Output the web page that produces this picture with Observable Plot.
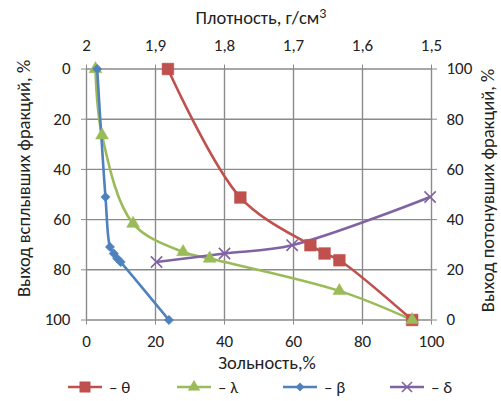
<!DOCTYPE html>
<html>
<head>
<meta charset="utf-8">
<script src="https://cdn.jsdelivr.net/npm/d3@7"></script>
<script src="https://cdn.jsdelivr.net/npm/@observablehq/plot@0.6"></script>
<style>
  html, body { margin: 0; padding: 0; background: #fff; }
  #wrap { position: relative; width: 501px; height: 401px; font-family: Carlito, Lato, "Open Sans", sans-serif; }
  #legend { position: absolute; left: 0; top: 376px; width: 501px; height: 22px; font-size: 17px; color: #222; }
  .item { position: absolute; top: 0; display: flex; align-items: center; height: 22px; }
  .item svg { margin-right: 7px; }
</style>
</head>
<body>
<div id="wrap"><div id="chart"></div><div id="legend"></div></div>
<script>
// Axis ticks and labels
const xTicks = [0, 20, 40, 60, 80, 100];
const yTicks = [0, 20, 40, 60, 80, 100];
const topLabels = ["2", "1,9", "1,8", "1,7", "1,6", "1,5"];
const rightLabels = ["100", "80", "60", "40", "20", "0"];

// θ series (ash %, floats yield %)
const thetaX = [23.6, 44.6, 64.9, 69.0, 73.3, 94.4];
const thetaY = [0, 51.2, 70.2, 73.5, 76.2, 100];
// λ series
const lambdaX = [2.6, 4.5, 13.5, 28.0, 35.7, 73.3, 94.4];
const lambdaY = [0, 26.4, 61.6, 72.9, 75.5, 88.4, 100];
// β series
const betaX = [3.1, 5.5, 6.8, 7.9, 8.9, 9.9, 23.9];
const betaY = [0, 51.0, 70.9, 73.5, 75.5, 76.9, 100];
// δ series (ash %, sinks yield % on right axis)
const deltaX = [20.3, 40.0, 59.6, 99.6];
const deltaSink = [23.1, 26.5, 29.8, 49.0];

const seriesNames = ["θ", "λ", "β", "δ"];
const colors = ["#C0504D", "#9BBB59", "#4F81BD", "#8064A2"];
const symbols = ["square", "triangle", "diamond2", "times"];
const sizes = [6.6, 4.8, 4.2, 5.2];

const toRows = (xs, ys) => xs.map((x, i) => ({x, y: ys[i]}));
const series = [
  toRows(thetaX, thetaY),
  toRows(lambdaX, lambdaY),
  toRows(betaX, betaY),
  toRows(deltaX, deltaSink.map(v => 100 - v))
];

const font = 'Carlito, Lato, "Open Sans", sans-serif';
const grid = "#8a8a8a";
const txt = "#222";
const FS = 17;
const TS = 18.5;
const H = 380;

const marks = [
  Plot.gridX(xTicks, {stroke: grid, strokeOpacity: 1, strokeWidth: 1.4}),
  Plot.gridY(yTicks, {stroke: grid, strokeOpacity: 1, strokeWidth: 1.4}),
  Plot.axisX(xTicks, {anchor: "bottom", tickSize: 5, tickPadding: 10, stroke: grid, label: null, fontSize: FS, fill: txt}),
  Plot.axisX(xTicks, {anchor: "top", tickSize: 5, tickPadding: 13, stroke: grid, label: null, fontSize: FS, fill: txt,
    tickFormat: d => topLabels[xTicks.indexOf(d)]}),
  Plot.axisY(yTicks, {anchor: "left", tickSize: 5, tickPadding: 11, stroke: grid, label: null, fontSize: FS, fill: txt}),
  Plot.axisY(yTicks, {anchor: "right", tickSize: 5, tickPadding: 10, stroke: grid, label: null, fontSize: FS, fill: txt,
    tickFormat: d => rightLabels[yTicks.indexOf(d)]}),
];
series.forEach((rows, i) => {
  marks.push(Plot.line(rows, {x: "x", y: "y", stroke: colors[i], strokeWidth: 2.6, curve: "catmull-rom"}));
});
series.forEach((rows, i) => {
  const isStroke = symbols[i] === "times";
  marks.push(Plot.dot(rows, {x: "x", y: "y", symbol: symbols[i], r: sizes[i],
    fill: isStroke ? "none" : colors[i], stroke: colors[i], strokeWidth: isStroke ? 1.6 : 0.5}));
});
marks.push(
  Plot.text(["Плотность, г/см"], {frameAnchor: "top", dx: 2, dy: -51, lineAnchor: "middle", textAnchor: "middle", fontSize: TS, fill: txt, className: "toptitle"}),
  Plot.text(["Зольность,%"], {frameAnchor: "bottom", dx: 8, dy: 43.5, lineAnchor: "middle", textAnchor: "middle", fontSize: TS, fill: txt}),
  Plot.text(["Выход всплывших фракций, %"], {frameAnchor: "left", dx: -62, dy: -16, rotate: -90, lineAnchor: "middle", textAnchor: "middle", fontSize: TS, fill: txt}),
  Plot.text(["Выход потонувших фракций, %"], {frameAnchor: "right", dx: 57, dy: -4, rotate: -90, lineAnchor: "middle", textAnchor: "middle", fontSize: TS, fill: txt})
);

const chart = Plot.plot({
  width: 501,
  height: H,
  marginLeft: 86,
  marginRight: 70,
  marginTop: 68.5,
  marginBottom: H - 319.5,
  style: {fontFamily: font, fontSize: FS + "px", background: "#fff"},
  x: {domain: [0, 100], axis: null},
  y: {domain: [0, 100], reverse: true, axis: null},
  marks
});
// superscript "3" after "см"
chart.querySelectorAll("g.toptitle text").forEach(t => {
  const sup = document.createElementNS("http://www.w3.org/2000/svg", "tspan");
  sup.setAttribute("dy", "-0.45em");
  sup.setAttribute("font-size", "14");
  sup.textContent = "3";
  t.appendChild(sup);
});
document.getElementById("chart").appendChild(chart);

// Legend
const legend = document.getElementById("legend");
const legendLeft = [68, 177, 283, 390];
const d3sym = {square: d3.symbolSquare, triangle: d3.symbolTriangle, diamond2: d3.symbolDiamond2, times: d3.symbolTimes};
seriesNames.forEach((name, i) => {
  const item = document.createElement("div");
  item.className = "item";
  item.style.left = legendLeft[i] + "px";
  const sym = d3.symbol(d3sym[symbols[i]], Math.PI * sizes[i] * sizes[i] * 0.8)();
  const isStroke = symbols[i] === "times";
  item.innerHTML = `<svg width="34" height="16"><line x1="0" x2="34" y1="8" y2="8" stroke="${colors[i]}" stroke-width="2.6"/>` +
    `<path transform="translate(17,8)" d="${sym}" fill="${isStroke ? "none" : colors[i]}" stroke="${colors[i]}" stroke-width="${isStroke ? 1.6 : 0.5}"/></svg>` +
    `<span>– ${name}</span>`;
  legend.appendChild(item);
});
</script>
</body>
</html>
